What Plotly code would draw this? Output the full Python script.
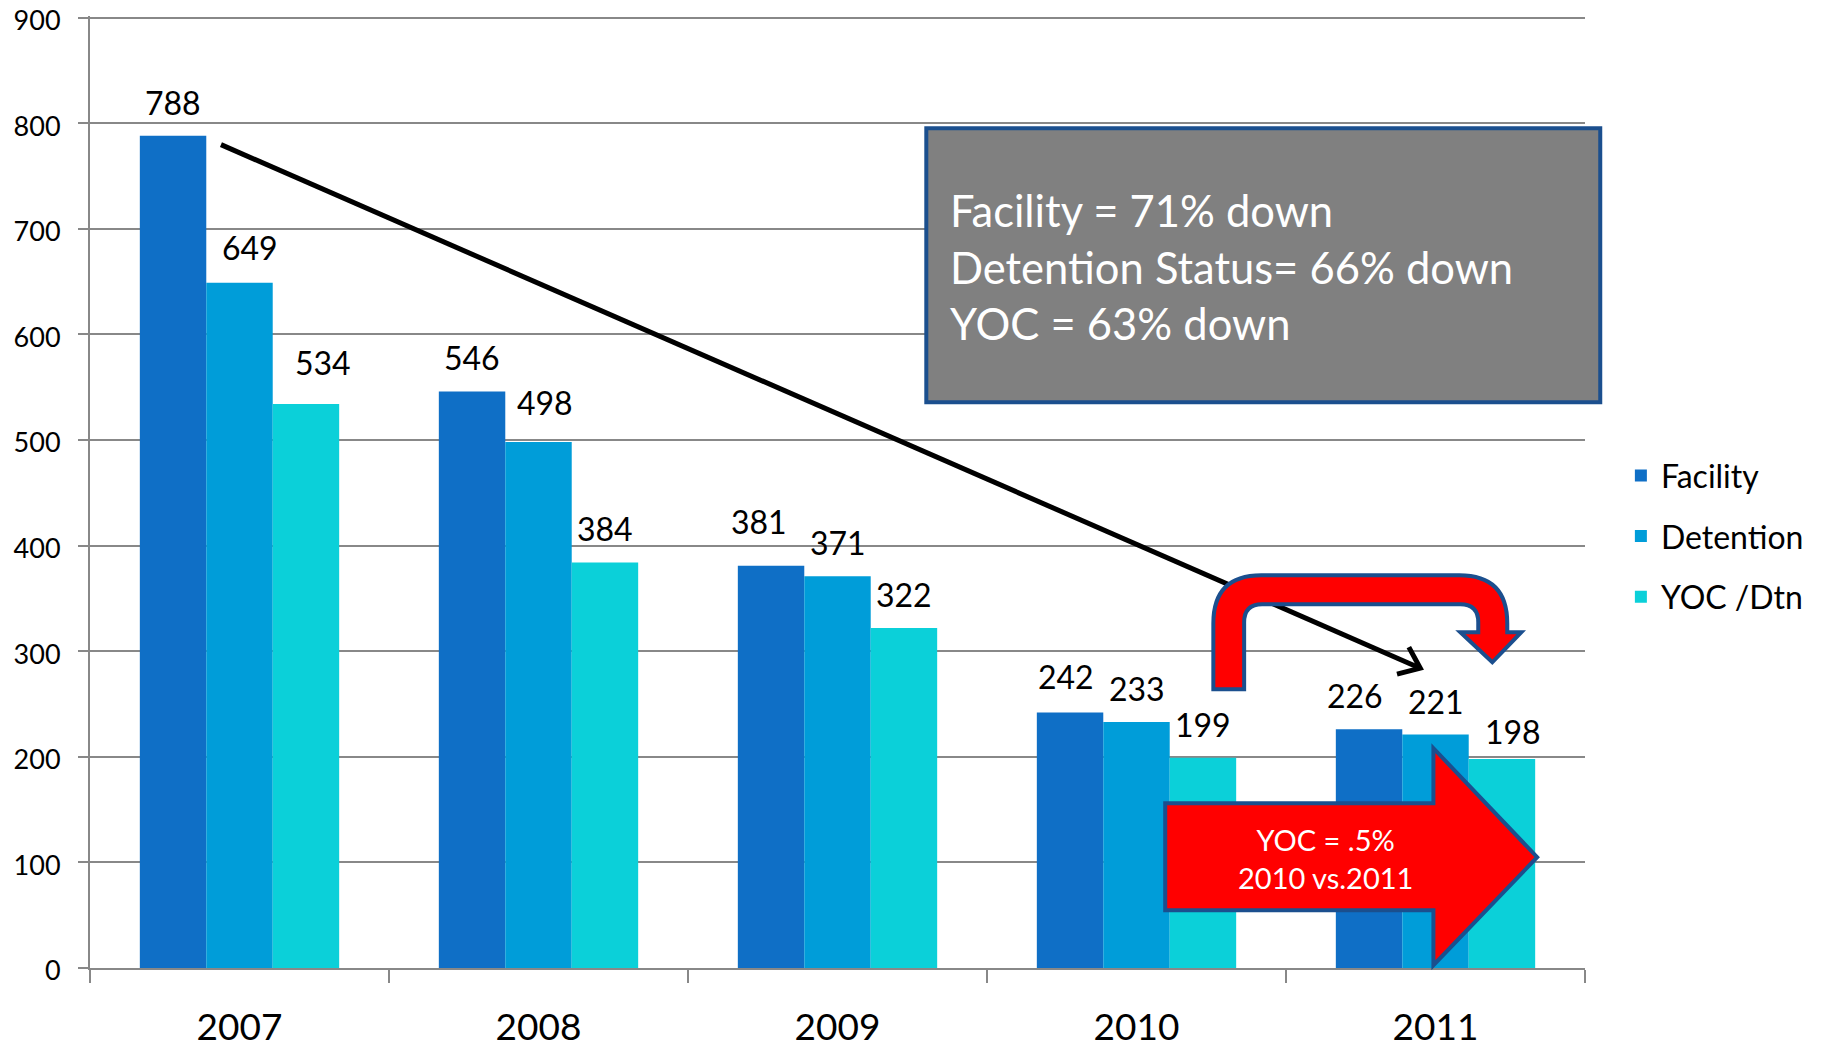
import math
import plotly.graph_objects as go

# ---------------- data ----------------
years = ["2007", "2008", "2009", "2010", "2011"]
facility = [788, 546, 381, 242, 226]
detention = [649, 498, 371, 233, 221]
yoc_dtn = [534, 384, 322, 199, 198]
series_names = ["Facility", "Detention", "YOC /Dtn"]
series_colors = ["#0F6FC6", "#009DD9", "#0BD0D9"]
y_tick_values = [0, 100, 200, 300, 400, 500, 600, 700, 800, 900]

summary_lines = ["Facility = 71% down", "Detention Status= 66% down", "YOC = 63% down"]
callout_lines = ["YOC = .5%", "2010 vs.2011"]

# hand-placed data-label nudges in the original (pixels: right, up)
label_nudges = {
    ("Facility", "2009"): (-12, 11),
    ("Facility", "2010"): (-4, 2),
    ("Facility", "2011"): (-14, 0),
    ("Detention", "2007"): (10, 2),
    ("Detention", "2008"): (6, 6),
    ("YOC /Dtn", "2007"): (17, 8),
    ("YOC /Dtn", "2011"): (11, -6),
}

# ---------------- layout constants ----------------
W, H = 1827, 1053
YMAX = 900
YTOP = 901.5
ML, MR = 90, 242.3
MB = 85.3
PX_PER_UNIT = 950.2 / YMAX
MT = H - MB - YTOP * PX_PER_UNIT
PW, PH = W - ML - MR, H - MT - MB
BARGAP = 1 / 3
FONT = "Lato, 'Open Sans', sans-serif"
OUTLINE = "#1B4F8E"
GRID = "#888888"

ncat = len(years)
px_x = PW / ncat          # pixels per category unit
px_y = PH / YTOP          # pixels per value unit


def P(xi, v):
    """category-index / value -> paper coords"""
    return (xi + 0.5) / ncat, v / YTOP


def path_from(points_cmds):
    out = []
    for cmd, pts in points_cmds:
        coords = []
        for (xi, v) in pts:
            px, py = P(xi, v)
            coords.append(f"{px:.5f},{py:.5f}")
        out.append(cmd + " ".join(coords))
    return " ".join(out) + " Z"


fig = go.Figure()
all_series = [facility, detention, yoc_dtn]
for name, vals, col in zip(series_names, all_series, series_colors):
    fig.add_trace(go.Bar(
        x=years, y=vals, name=name, marker=dict(color=col, line=dict(width=0)),
        legendgroup=name,
    ))

# ---------------- data labels ----------------
bw = (1 - BARGAP) / len(all_series)
annotations = []
for k, (name, vals) in enumerate(zip(series_names, all_series)):
    off = (k - (len(all_series) - 1) / 2) * bw
    for i, v in enumerate(vals):
        ndx, ndy = label_nudges.get((name, years[i]), (0, 0))
        annotations.append(dict(
            x=i + off, y=v, xref="x", yref="y", text=str(v), showarrow=False,
            yanchor="bottom", xshift=ndx, yshift=12 + ndy,
            font=dict(family=FONT, size=32, color="black"),
        ))

shapes = []

# ---------------- black trend arrow (drawn first, under red shapes) ----------------
tail = (-0.062, 779.7)
head = (3.949, 283.9)
x0p, y0p = P(*tail)
x1p, y1p = P(*head)
shapes.append(dict(type="line", xref="paper", yref="paper", x0=x0p, y0=y0p, x1=x1p, y1=y1p,
                   line=dict(color="black", width=5)))
dxp = (head[0] - tail[0]) * px_x
dyp = (head[1] - tail[1]) * px_y
ln = math.hypot(dxp, dyp)
ux, uy = dxp / ln, dyp / ln
arm = 24
arms = []
for ang in (math.radians(38), -math.radians(38)):
    rx = -(ux * math.cos(ang) - uy * math.sin(ang))
    ry = -(ux * math.sin(ang) + uy * math.cos(ang))
    arms.append((head[0] + rx * arm / px_x, head[1] + ry * arm / px_y))
hp = P(*head)
a1 = P(*arms[0])
a2 = P(*arms[1])
shapes.append(dict(type="path", xref="paper", yref="paper",
                   path=f"M{a1[0]:.5f},{a1[1]:.5f} L{hp[0]:.5f},{hp[1]:.5f} L{a2[0]:.5f},{a2[1]:.5f}",
                   line=dict(color="black", width=5)))

# ---------------- summary box ----------------
bx0, by0 = P(2.297, 535.8)
bx1, by1 = P(4.551, 795.3)
shapes.append(dict(type="rect", xref="paper", yref="paper", x0=bx0, y0=by0, x1=bx1, y1=by1,
                   fillcolor="#808080", line=dict(color=OUTLINE, width=4)))
tx, ty = P(2.370, 664.6)
annotations.append(dict(x=tx, y=ty, xref="paper", yref="paper", xanchor="left", yanchor="middle",
                        align="left", showarrow=False, text="<br>".join(summary_lines),
                        font=dict(family=FONT, size=43.5, color="white")))

# ---------------- U-turn arrow ----------------
xLo, xLi, xRi, xRo = 3.257, 3.360, 4.143, 4.240
hl, hr, tipx = 4.083, 4.287, 4.190
ybot, ytop_o, ytop_i, yhb, ytip = 264.0, 372.0, 344.5, 318.0, 289.5
Rox, Roy = 48 / px_x, 48 / px_y
Rix, Riy = 18 / px_x, 18 / px_y
u_path = path_from([
    ("M", [(xLo, ybot)]),
    ("L", [(xLo, ytop_o - Roy)]),
    ("Q", [(xLo, ytop_o), (xLo + Rox, ytop_o)]),
    ("L", [(xRo - Rox, ytop_o)]),
    ("Q", [(xRo, ytop_o), (xRo, ytop_o - Roy)]),
    ("L", [(xRo, yhb)]),
    ("L", [(hr, yhb)]),
    ("L", [(tipx, ytip)]),
    ("L", [(hl, yhb)]),
    ("L", [(xRi, yhb)]),
    ("L", [(xRi, ytop_i - Riy)]),
    ("Q", [(xRi, ytop_i), (xRi - Rix, ytop_i)]),
    ("L", [(xLi + Rix, ytop_i)]),
    ("Q", [(xLi, ytop_i), (xLi, ytop_i - Riy)]),
    ("L", [(xLi, ybot)]),
])
shapes.append(dict(type="path", xref="paper", yref="paper", path=u_path,
                   fillcolor="#FF0000", line=dict(color=OUTLINE, width=4)))

# ---------------- big right arrow ----------------
sl, hbx, tx2 = 3.096, 3.993, 4.340
st, sb, ht, hb, ty2 = 156.0, 54.6, 208.1, 2.6, 104.9
big_path = path_from([
    ("M", [(sl, sb)]),
    ("L", [(sl, st)]),
    ("L", [(hbx, st)]),
    ("L", [(hbx, ht)]),
    ("L", [(tx2, ty2)]),
    ("L", [(hbx, hb)]),
    ("L", [(hbx, sb)]),
])
shapes.append(dict(type="path", xref="paper", yref="paper", path=big_path,
                   fillcolor="#FF0000", line=dict(color=OUTLINE, width=4)))
cx, cy = P(3.631, 103.4)
annotations.append(dict(x=cx, y=cy, xref="paper", yref="paper", xanchor="center", yanchor="middle",
                        align="center", showarrow=False, text="<br>".join(callout_lines),
                        font=dict(family=FONT, size=29, color="white")))

fig.update_layout(
    width=W, height=H,
    margin=dict(l=ML, r=MR, t=MT, b=MB, pad=0, autoexpand=False),
    paper_bgcolor="white", plot_bgcolor="white",
    barmode="group", bargap=BARGAP, bargroupgap=0,
    font=dict(family=FONT, color="black"),
    shapes=shapes, annotations=annotations,
    showlegend=True,
    legend=dict(x=1.024, y=0.546, xanchor="left", yanchor="top",
                font=dict(family=FONT, size=32, color="black"),
                tracegroupgap=16, bgcolor="rgba(0,0,0,0)"),
    xaxis=dict(type="category", showgrid=False, showline=True, linecolor=GRID, linewidth=2,
               ticks="outside", tickson="boundaries", ticklen=13, tickcolor=GRID, tickwidth=1.5,
               tickfont=dict(family=FONT, size=37, color="black"), ticklabelstandoff=26,
               range=[-0.5, ncat - 0.5], automargin=False),
    yaxis=dict(range=[0, YTOP], tickvals=y_tick_values, showgrid=True, gridcolor=GRID, gridwidth=1.5,
               showline=True, linecolor=GRID, linewidth=2, ticks="outside", ticklen=10,
               tickcolor=GRID, tickwidth=1.5, zeroline=False, automargin=False,
               ticklabeloverflow="allow", ticklabelshift=3,
               tickfont=dict(family=FONT, size=27, color="black"), ticklabelstandoff=12),
)

# page body margin removed so the figure fills the 1827x1053 window exactly
fig.write_html("out.html", config={"displayModeBar": False},
               post_script="document.body.style.margin='0';")
